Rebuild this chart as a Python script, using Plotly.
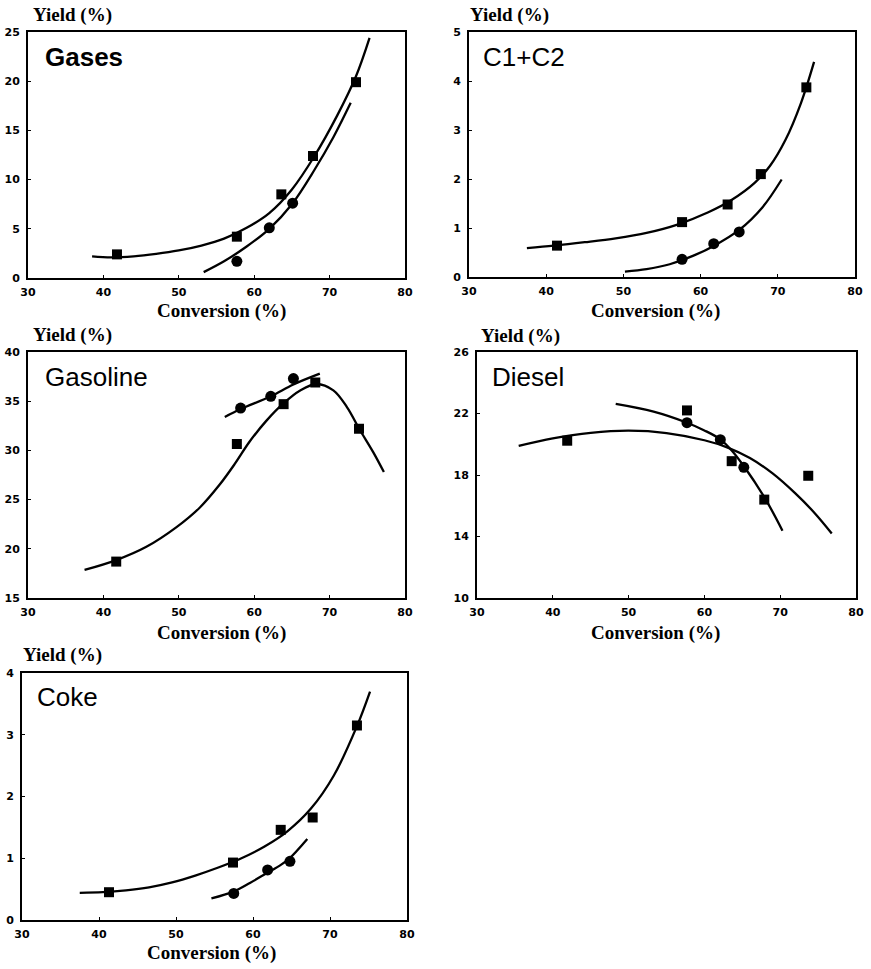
import plotly.graph_objects as go

W, H = 871, 969

# ---------------- data ----------------
# Gases
gases_sq_x = [41.8, 57.7, 63.6, 67.8, 73.5]
gases_sq_y = [2.4, 4.2, 8.5, 12.4, 19.9]
gases_ci_x = [57.7, 62.0, 65.1]
gases_ci_y = [1.7, 5.1, 7.6]
gases_fit_sq_x = [38.5, 41, 44, 47, 50, 53, 56, 59, 62, 65, 68, 71, 73.5, 75.3]
gases_fit_sq_y = [2.2, 2.1, 2.2, 2.45, 2.8, 3.3, 4.0, 5.1, 6.6, 9.0, 12.4, 16.5, 20.5, 24.4]
gases_fit_ci_x = [53.3, 56, 59, 62, 65, 68, 70.5, 72.8]
gases_fit_ci_y = [0.6, 1.7, 3.2, 5.0, 7.5, 11.0, 14.3, 17.8]

# C1+C2
c12_sq_x = [41.4, 57.6, 63.5, 67.8, 73.7]
c12_sq_y = [0.64, 1.12, 1.48, 2.1, 3.87]
c12_ci_x = [57.6, 61.7, 65.0]
c12_ci_y = [0.36, 0.68, 0.92]
c12_fit_sq_x = [37.5, 41, 45, 49, 53, 57, 61, 64, 67, 69, 71, 73, 74.7]
c12_fit_sq_y = [0.59, 0.64, 0.71, 0.79, 0.9, 1.07, 1.32, 1.57, 1.92, 2.27, 2.8, 3.55, 4.39]
c12_fit_ci_x = [50.2, 53, 56, 59, 62, 65, 68, 70.5]
c12_fit_ci_y = [0.11, 0.16, 0.26, 0.43, 0.66, 0.96, 1.42, 1.99]

# Gasoline
gaso_sq_x = [41.7, 57.7, 63.9, 68.1, 73.9]
gaso_sq_y = [18.7, 30.65, 34.7, 36.9, 32.2]
gaso_ci_x = [58.2, 62.2, 65.2]
gaso_ci_y = [34.3, 35.5, 37.3]
gaso_fit_sq_x = [37.5, 41.7, 45.7, 49.7, 52.8, 55.4, 57.4, 59.4, 61.6, 63.9, 66.1, 68.3, 70.5, 72.3, 74.0, 75.8, 77.2]
gaso_fit_sq_y = [17.85, 18.85, 20.2, 22.2, 24.2, 26.5, 28.6, 30.9, 33.0, 34.8, 36.1, 36.75, 36.1, 34.4, 32.1, 29.8, 27.8]
gaso_fit_ci_x = [56.1, 58.2, 62.2, 65.2, 68.7]
gaso_fit_ci_y = [33.4, 34.2, 35.5, 36.7, 37.8]

# Diesel
dies_sq_x = [41.9, 57.7, 63.6, 67.9, 73.7]
dies_sq_y = [20.23, 22.2, 18.9, 16.4, 17.95]
dies_ci_x = [57.7, 62.1, 65.2]
dies_ci_y = [21.4, 20.3, 18.5]
dies_fit_sq_x = [35.5, 40, 45, 50, 55, 60, 63, 66, 69, 72, 74.5, 76.8]
dies_fit_sq_y = [19.89, 20.38, 20.74, 20.88, 20.73, 20.26, 19.8, 19.1, 18.1, 16.8, 15.55, 14.2]
dies_fit_ci_x = [48.3, 53.3, 57.7, 60.0, 62.1, 63.6, 65.1, 68.0, 70.3]
dies_fit_ci_y = [22.62, 22.12, 21.4, 20.9, 20.32, 19.6, 18.65, 16.48, 14.38]

# Coke
coke_sq_x = [41.3, 57.4, 63.6, 67.75, 73.5]
coke_sq_y = [0.45, 0.93, 1.46, 1.66, 3.15]
coke_ci_x = [57.5, 61.9, 64.8]
coke_ci_y = [0.43, 0.81, 0.95]
coke_fit_sq_x = [37.5, 40.5, 43.5, 46.5, 49.5, 52.5, 55.5, 58.5, 61.5, 64.5, 67.5, 70.5, 73.5, 75.2]
coke_fit_sq_y = [0.44, 0.45, 0.48, 0.53, 0.61, 0.72, 0.85, 1.0, 1.19, 1.44, 1.8, 2.34, 3.14, 3.7]
coke_fit_ci_x = [54.6, 57.45, 59.6, 61.8, 63.2, 64.6, 67.05]
coke_fit_ci_y = [0.35, 0.46, 0.6, 0.76, 0.86, 0.98, 1.31]

panel_names = ["Gases", "C1+C2", "Gasoline", "Diesel", "Coke"]
x_ticks = [30, 40, 50, 60, 70, 80]
y_ranges = [[0, 25], [0, 5], [15, 40], [10, 26], [0, 4]]
y_dticks = [5, 1, 5, 4, 1]

panels = [
    (gases_sq_x, gases_sq_y, gases_ci_x, gases_ci_y, gases_fit_sq_x, gases_fit_sq_y, gases_fit_ci_x, gases_fit_ci_y),
    (c12_sq_x, c12_sq_y, c12_ci_x, c12_ci_y, c12_fit_sq_x, c12_fit_sq_y, c12_fit_ci_x, c12_fit_ci_y),
    (gaso_sq_x, gaso_sq_y, gaso_ci_x, gaso_ci_y, gaso_fit_sq_x, gaso_fit_sq_y, gaso_fit_ci_x, gaso_fit_ci_y),
    (dies_sq_x, dies_sq_y, dies_ci_x, dies_ci_y, dies_fit_sq_x, dies_fit_sq_y, dies_fit_ci_x, dies_fit_ci_y),
    (coke_sq_x, coke_sq_y, coke_ci_x, coke_ci_y, coke_fit_sq_x, coke_fit_sq_y, coke_fit_ci_x, coke_fit_ci_y),
]

# ---------------- layout (pixel boxes: left, right, top, bottom) ----------------
boxes = [(28, 405, 32, 278), (469, 855, 32, 277), (28, 405, 352, 598),
         (477, 856, 352, 598), (22, 407, 673, 920)]
yield_pos = [(31, 15), (468, 15), (31, 335), (479, 336), (21, 655)]
conv_pos = [(221, 311), (655, 311), (221, 633), (655, 633), (211, 953)]
name_pos = [(43, 57), (481, 57), (43, 377), (490, 377), (35, 697)]

def px(x):
    return x / W

def py(y):
    return 1 - y / H

fig = go.Figure()
line_style = dict(color="black", width=2.3)
tick_font = dict(family="DejaVu Sans, Arial, sans-serif", size=11, color="black", weight="bold")
serif_font = dict(family="Liberation Serif, Times New Roman, serif", size=19, color="black", weight="bold")

layout = dict(width=W, height=H, margin=dict(l=0, r=0, t=0, b=0, pad=0),
              paper_bgcolor="white", plot_bgcolor="white", showlegend=False)
annotations = []

for i, (sqx, sqy, cix, ciy, fsx, fsy, fcx, fcy) in enumerate(panels):
    n = "" if i == 0 else str(i + 1)
    xa, ya = "x" + n, "y" + n
    fig.add_trace(go.Scatter(x=fsx, y=fsy, mode="lines", line=dict(shape="spline", smoothing=1.0, **line_style),
                             xaxis=xa, yaxis=ya, hoverinfo="skip"))
    fig.add_trace(go.Scatter(x=fcx, y=fcy, mode="lines", line=dict(shape="spline", smoothing=1.0, **line_style),
                             xaxis=xa, yaxis=ya, hoverinfo="skip"))
    fig.add_trace(go.Scatter(x=sqx, y=sqy, mode="markers",
                             marker=dict(symbol="square", size=10, color="black"),
                             xaxis=xa, yaxis=ya))
    fig.add_trace(go.Scatter(x=cix, y=ciy, mode="markers",
                             marker=dict(symbol="circle", size=11, color="black"),
                             xaxis=xa, yaxis=ya))
    l, r, t, b = boxes[i]
    common = dict(showgrid=False, zeroline=False, showline=True, mirror=True,
                  linecolor="black", linewidth=2, ticks="inside", ticklen=3,
                  tickcolor="black", tickfont=tick_font, automargin=False)
    layout["xaxis" + n] = dict(domain=[px(l), px(r)], range=[30, 80], tickvals=x_ticks,
                               anchor=ya, ticklabelstandoff=3, **common)
    layout["yaxis" + n] = dict(domain=[py(b), py(t)], range=y_ranges[i], dtick=y_dticks[i],
                               tick0=y_ranges[i][0], anchor=xa, ticklabelstandoff=4, **common)
    yx, yy = yield_pos[i]
    annotations.append(dict(text="Yield (%)", x=px(yx), y=py(yy), xref="paper", yref="paper",
                            xanchor="left", yanchor="middle", showarrow=False, font=serif_font))
    cx, cy = conv_pos[i]
    annotations.append(dict(text="Conversion (%)", x=px(cx), y=py(cy), xref="paper", yref="paper",
                            xanchor="center", yanchor="middle", showarrow=False, font=serif_font))
    nx, ny = name_pos[i]
    annotations.append(dict(text=panel_names[i], x=px(nx), y=py(ny), xref="paper", yref="paper",
                            xanchor="left", yanchor="middle", showarrow=False,
                            font=dict(family="Liberation Sans, Arial, sans-serif", size=26, color="black",
                                      weight="bold" if i == 0 else "normal")))

layout["annotations"] = annotations
fig.update_layout(**layout)
fig.write_html("out.html", post_script="document.body.style.margin='0px';document.body.style.padding='0px';")
